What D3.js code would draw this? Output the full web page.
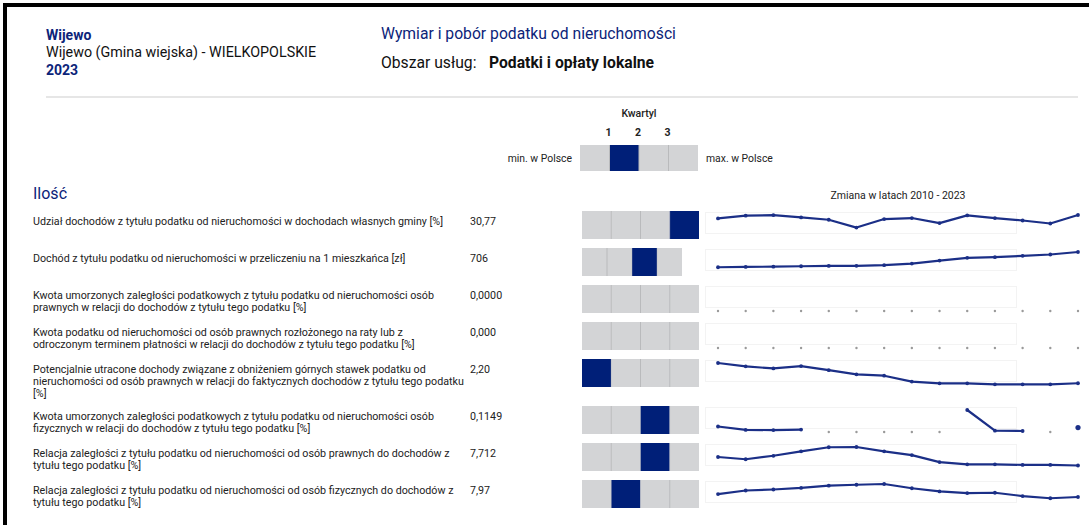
<!DOCTYPE html>
<html>
<head>
<meta charset="utf-8">
<script src="https://cdn.jsdelivr.net/npm/d3@7"></script>
<style>
  body { margin: 0; background: #fff; }
  svg { display: block; font-family: Roboto, "Noto Sans", sans-serif; }
</style>
</head>
<body>
<div id="canvas"></div>
<script>
// --- data ---
var years = d3.range(2010, 2024);

var labels = [
  "Udział dochodów z tytułu podatku od nieruchomości w dochodach własnych gminy [%]",
  "Dochód z tytułu podatku od nieruchomości w przeliczeniu na 1 mieszkańca [zł]",
  "Kwota umorzonych zaległości podatkowych z tytułu podatku od nieruchomości osób\nprawnych w relacji do dochodów z tytułu tego podatku [%]",
  "Kwota podatku od nieruchomości od osób prawnych rozłożonego na raty lub z\nodroczonym terminem płatności w relacji do dochodów z tytułu tego podatku [%]",
  "Potencjalnie utracone dochody związane z obniżeniem górnych stawek podatku od\nnieruchomości od osób prawnych w relacji do faktycznych dochodów z tytułu tego podatku\n[%]",
  "Kwota umorzonych zaległości podatkowych z tytułu podatku od nieruchomości osób\nfizycznych w relacji do dochodów z tytułu tego podatku [%]",
  "Relacja zaległości z tytułu podatku od nieruchomości od osób prawnych do dochodów z\ntytułu tego podatku [%]",
  "Relacja zaległości z tytułu podatku od nieruchomości od osób fizycznych do dochodów z\ntytułu tego podatku [%]"
];

var values = ["30,77", "706", "0,0000", "0,000", "2,20", "0,1149", "7,712", "7,97"];

// quartile of the gmina (1-4), null = none
var quartiles = [4, 3, null, null, 1, 3, 3, 2];

var series = [
  [25.95, 29.78, 30.60, 27.37, 24.10, 13.19, 25.10, 26.52, 19.42, 30.20, 26.40, 23.11, 18.86, 30.77],
  [217, 227, 236, 249, 259, 262, 282, 334, 431, 518, 541, 583, 625, 706],
  [null, null, null, null, null, null, null, null, null, null, null, null, null, null],
  [null, null, null, null, null, null, null, null, null, null, null, null, null, null],
  [27.5, 23.3, 20.7, 23.7, 18.5, 13.3, 11.6, 4.27, 2.15, 2.10, 0.9, 0.9, 0.9, 2.20],
  [0.142, 0.053, 0.050, 0.062, null, null, null, null, null, 0.57, 0.034, 0.026, null, 0.1149],
  [26.5, 21.5, 29.2, 39.0, 48.0, 48.6, 39.0, 30.7, 15.2, 10.4, 10.4, 9.0, 9.0, 7.712],
  [10.5, 13.7, 14.6, 16.0, 18.0, 18.8, 19.45, 15.7, 12.9, 11.4, 11.7, 8.8, 6.85, 7.97]
];

var legendQuartile = 2;
var quartileTicks = [1, 2, 3];

// --- layout ---
var W = 1089, H = 525;
var navy = "#0c2479", dark = "#001f78", lineCol = "#1b2f87", grey = "#d3d4d6";
var fs = 10.7;

var svg = d3.select("#canvas").append("svg")
  .attr("width", W).attr("height", H);

// frame
svg.append("rect").attr("x", 3).attr("y", 3).attr("width", W).attr("height", 4).attr("fill", "#000");
svg.append("rect").attr("x", 3).attr("y", 3).attr("width", 4).attr("height", H).attr("fill", "#000");

// header
var head = svg.append("g");
head.append("text").attr("x", 46).attr("y", 40).attr("font-size", 14).attr("font-weight", "bold")
  .attr("fill", navy).text("Wijewo");
head.append("text").attr("x", 46).attr("y", 57).attr("font-size", 14.3).attr("fill", "#111")
  .text("Wijewo (Gmina wiejska) - WIELKOPOLSKIE");
head.append("text").attr("x", 46).attr("y", 75).attr("font-size", 14).attr("font-weight", "bold")
  .attr("fill", navy).text("2023");
head.append("text").attr("x", 381).attr("y", 39).attr("font-size", 15.7).attr("fill", navy)
  .text("Wymiar i pobór podatku od nieruchomości");
var obs = head.append("text").attr("x", 381).attr("y", 68).attr("font-size", 15.7).attr("fill", "#111");
obs.append("tspan").text("Obszar usług:");
obs.append("tspan").attr("x", 489).attr("font-weight", "bold").text("Podatki i opłaty lokalne");
head.append("rect").attr("x", 46).attr("y", 96).attr("width", 1032).attr("height", 2).attr("fill", "#e6e6e6");

// quartile legend
var legX = d3.scaleBand().domain([1, 2, 3, 4]).range([580, 698]);
var leg = svg.append("g");
leg.append("text").attr("x", 639).attr("y", 117).attr("text-anchor", "middle")
  .attr("font-size", 10.5).attr("font-weight", "500").attr("fill", "#222").text("Kwartyl");
leg.selectAll(".qt").data(quartileTicks).enter().append("text")
  .attr("x", function (d) { return legX(d) + legX.bandwidth() - 1; })
  .attr("y", 136).attr("text-anchor", "middle")
  .attr("font-size", 10.5).attr("font-weight", "bold").attr("fill", "#222")
  .text(function (d) { return d; });
leg.selectAll("rect").data(legX.domain()).enter().append("rect")
  .attr("x", function (d) { return legX(d); }).attr("y", 145)
  .attr("width", legX.bandwidth()).attr("height", 26)
  .attr("fill", function (d) { return d === legendQuartile ? dark : grey; });
leg.selectAll(".dv").data([2, 3, 4]).enter().append("line")
  .attr("x1", function (d) { return legX(d); }).attr("x2", function (d) { return legX(d); })
  .attr("y1", 145).attr("y2", 171).attr("stroke", "#b9babc");
leg.append("text").attr("x", 572).attr("y", 162).attr("text-anchor", "end")
  .attr("font-size", 10.4).attr("fill", "#222").text("min. w Polsce");
leg.append("text").attr("x", 706).attr("y", 162)
  .attr("font-size", 10.4).attr("fill", "#222").text("max. w Polsce");

// section title
svg.append("text").attr("x", 33).attr("y", 199).attr("font-size", 16).attr("fill", navy).text("Ilość");
svg.append("text").attr("x", 898).attr("y", 199).attr("text-anchor", "middle")
  .attr("font-size", 10.5).attr("fill", "#222").text("Zmiana w latach 2010 - 2023");

// rows
var rowTops = [];
var rowY = 211;
labels.forEach(function (l) {
  rowTops.push(rowY);
  var n = l.split("\n").length;
  rowY += Math.max(37, n * 12 + 11);
});

var xSpark = d3.scalePoint().domain(years).range([718, 1078]);

labels.forEach(function (label, i) {
  var y0 = rowTops[i];
  var g = svg.append("g");

  var t = g.append("text").attr("x", 33).attr("y", y0 + 14).attr("font-size", fs).attr("fill", "#222");
  label.split("\n").forEach(function (line, k) {
    t.append("tspan").attr("x", 33).attr("dy", k === 0 ? 0 : 12).text(line);
  });
  g.append("text").attr("x", 470).attr("y", y0 + 14).attr("font-size", fs).attr("fill", "#222").text(values[i]);

  // quartile bar
  var qx = d3.scaleBand().domain([1, 2, 3, 4]).range([582, i === 1 ? 682 : 699]);
  g.selectAll(".q").data(qx.domain()).enter().append("rect")
    .attr("x", function (d) { return qx(d); }).attr("y", y0)
    .attr("width", qx.bandwidth()).attr("height", 28)
    .attr("fill", function (d) { return d === quartiles[i] ? dark : grey; });
  g.selectAll(".d").data([2, 3, 4]).enter().append("line")
    .attr("x1", function (d) { return qx(d); }).attr("x2", function (d) { return qx(d); })
    .attr("y1", y0).attr("y2", y0 + 28).attr("stroke", "#b9babc")
    .attr("opacity", function (d) { return d === quartiles[i] || d - 1 === quartiles[i] ? 0.4 : 1; });

  // sparkline
  g.append("rect").attr("x", 705.5).attr("y", y0 + 1.5).attr("width", 311).attr("height", 21)
    .attr("fill", "none").attr("stroke", "#f3f3f3");

  var data = series[i].map(function (v, k) { return { year: years[k], v: v }; });
  var maxV = d3.max(series[i]) || 1;
  var ys = d3.scaleLinear().domain([0, maxV]).range([y0 + 26, y0 + 4]);

  var line = d3.line()
    .defined(function (d) { return d.v != null; })
    .x(function (d) { return xSpark(d.year); })
    .y(function (d) { return ys(d.v); });

  g.append("path").datum(data).attr("d", line)
    .attr("fill", "none").attr("stroke", lineCol).attr("stroke-width", 2.2)
    .attr("stroke-linejoin", "round");

  g.selectAll(".pt").data(data).enter().append("circle")
    .attr("cx", function (d) { return xSpark(d.year); })
    .attr("cy", function (d) { return d.v == null ? y0 + 26 : ys(d.v); })
    .attr("r", function (d, k) {
      if (d.v == null) return 1.2;
      var prev = k > 0 ? data[k - 1].v : null, next = k < data.length - 1 ? data[k + 1].v : null;
      return prev == null && next == null ? 2.6 : 1.9;
    })
    .attr("fill", function (d) { return d.v == null ? "#9a9a9a" : lineCol; });
});
</script>
</body>
</html>
